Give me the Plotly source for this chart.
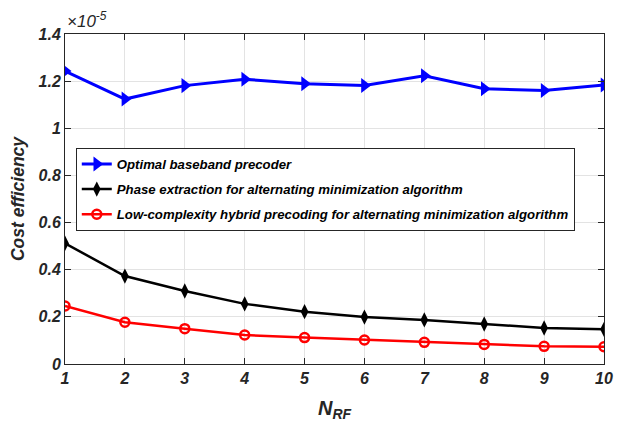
import plotly.graph_objects as go

n_rf = [1, 2, 3, 4, 5, 6, 7, 8, 9, 10]
# Cost efficiency in units of 1e-5
optimal = [1.243, 1.124, 1.181, 1.208, 1.189, 1.182, 1.223, 1.168, 1.160, 1.184]
phase_ext = [0.512, 0.373, 0.310, 0.255, 0.222, 0.199, 0.187, 0.170, 0.153, 0.147]
low_cplx = [0.246, 0.177, 0.150, 0.123, 0.112, 0.102, 0.092, 0.083, 0.075, 0.073]

names = ["Optimal baseband precoder",
         "Phase extraction for alternating minimization algorithm",
         "Low-complexity hybrid precoding for alternating minimization algorithm"]
y_ticks = [0, 0.2, 0.4, 0.6, 0.8, 1.0, 1.2, 1.4]
y_tick_text = ["0", "0.2", "0.4", "0.6", "0.8", "1", "1.2", "1.4"]

FONT = "Liberation Sans, Arial"

fig = go.Figure()
fig.add_trace(go.Scatter(x=n_rf, y=optimal, name=names[0], mode="lines+markers", legendgroup="a",
                         line=dict(color="#0000ff", width=3),
                         marker=dict(symbol="triangle-right", size=13, color="#0000ff")))
fig.add_trace(go.Scatter(x=n_rf, y=phase_ext, name=names[1], mode="lines+markers", legendgroup="b",
                         line=dict(color="#000000", width=2.5),
                         marker=dict(symbol="diamond-tall", size=11, color="#000000")))
fig.add_trace(go.Scatter(x=n_rf, y=low_cplx, name=names[2], mode="lines+markers", legendgroup="c",
                         line=dict(color="#ff0000", width=2.5),
                         marker=dict(symbol="circle-open", size=9, color="#ff0000",
                                     line=dict(width=2.5, color="#ff0000"))))

axis_common = dict(showline=True, linecolor="#262626", linewidth=1, mirror="ticks",
                   ticks="inside", ticklen=6, tickcolor="#262626",
                   showgrid=True, gridcolor="#e3e3e3", gridwidth=1, zeroline=False,
                   tickfont=dict(family=FONT, size=16, color="#262626", weight="bold", style="italic"))

fig.update_xaxes(range=[1, 10], tickvals=n_rf, **axis_common,
                 title=dict(text="N<sub>RF</sub>", standoff=14,
                            font=dict(family=FONT, size=20, color="#262626", weight="bold", style="italic")))
fig.update_yaxes(range=[0, 1.4], tickvals=y_ticks, ticktext=y_tick_text, **axis_common,
                 title=dict(text="Cost efficiency", standoff=9,
                            font=dict(family=FONT, size=17.5, color="#262626", weight="bold", style="italic")))

fig.add_annotation(xref="paper", yref="paper", x=0, y=1, xanchor="left", yanchor="bottom",
                   yshift=1, showarrow=False, text="×10<sup>-5</sup>",
                   font=dict(family=FONT, size=17, color="#262626", style="italic"))

# page body has an 8px default margin, so the figure is drawn 8px in from the window corner
fig.update_layout(
    width=619, height=416,
    margin=dict(l=57, r=23, t=26, b=60, autoexpand=False),
    plot_bgcolor="white", paper_bgcolor="white",
    showlegend=True,
    legend=dict(x=0.02, y=0.655, xanchor="left", yanchor="top",
                bgcolor="white", bordercolor="#262626", borderwidth=1,
                tracegroupgap=5, itemwidth=30,
                font=dict(family=FONT, size=13.2, color="#000000", weight="bold", style="italic")),
)

fig.write_html("out.html")
